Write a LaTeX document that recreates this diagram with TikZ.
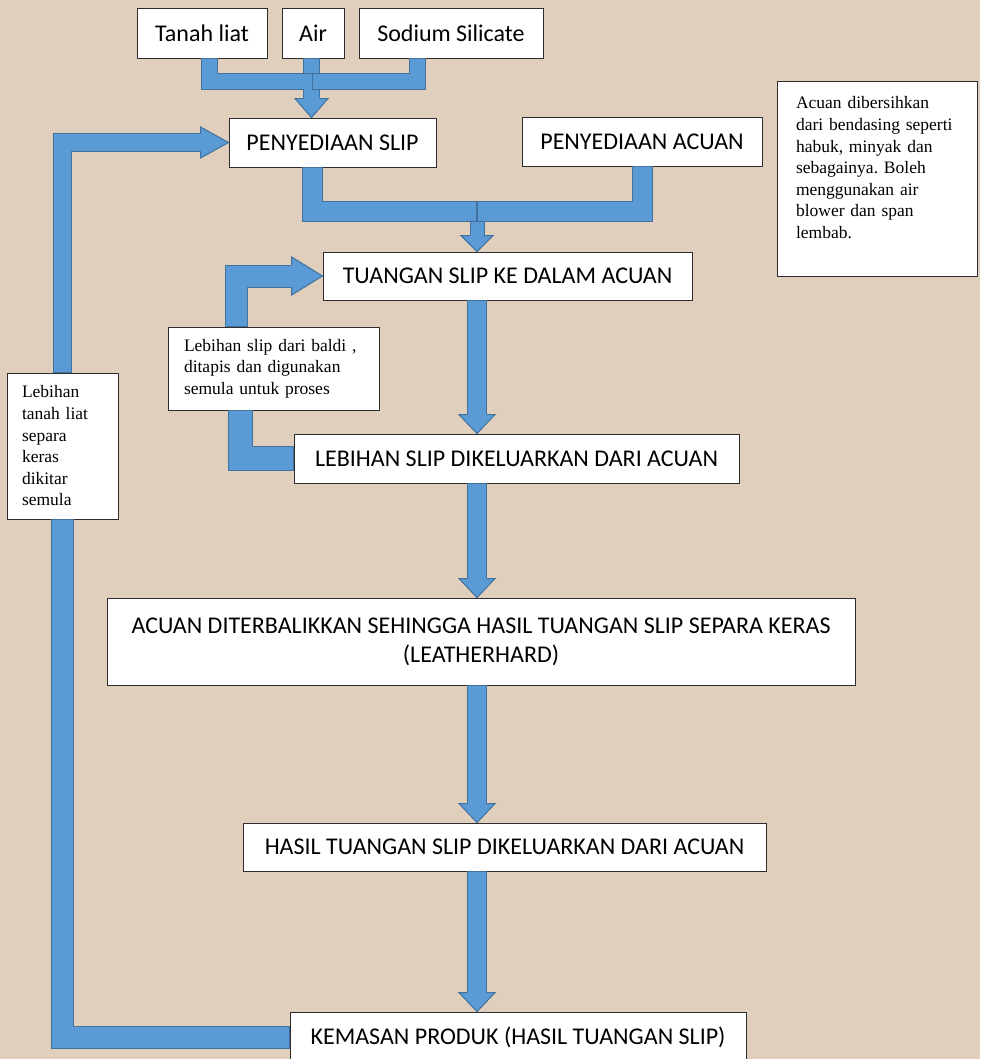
\documentclass[tikz,border=0pt]{standalone}
\usepackage{fontspec}
\setmainfont{Carlito}
\newfontfamily\notefont{Liberation Serif}
\usetikzlibrary{calc}
\frenchspacing
\definecolor{paper}{RGB}{224,207,189}
\definecolor{pipeblue}{RGB}{91,155,213}
\definecolor{pipeedge}{RGB}{65,113,156}
\definecolor{boxline}{RGB}{45,45,45}

% arrow head: tip, angle, shaft width, head width, head length
\newcommand{\pipehead}[5]{%
  \begin{scope}[shift={(#1)}, rotate=#2]
    \fill[pipeblue] (-#5-2,#3/2) -- (-#5,#3/2) -- (-#5,#4/2) -- (0,0) -- (-#5,-#4/2) -- (-#5,-#3/2) -- (-#5-2,-#3/2) -- cycle;
    \draw[pipeedge, line width=1pt] (-#5,#3/2+0.5) -- (-#5,#4/2) -- (0,0) -- (-#5,-#4/2) -- (-#5,-#3/2-0.5);
  \end{scope}}

\begin{document}
\begin{tikzpicture}[
  x=1pt, y=-1pt,
  box/.style={draw=boxline, line width=0.8pt, fill=white, inner sep=0pt, align=center, font=\fontsize{24}{29}\selectfont},
  note/.style={draw=boxline, line width=0.8pt, fill=white, align=left, inner ysep=0pt, font=\notefont\fontsize{17.5}{21.6}\selectfont},
  pipe/.style={draw=pipeblue, line width=#1, shorten <=1pt, shorten >=1pt,
    preaction={draw=pipeedge, line width=#1+2pt, shorten <=0pt, shorten >=0pt}},
]
\useasboundingbox (0,0) rectangle (980,1059);
\fill[paper] (0,0) rectangle (980,1059);

\node[box, minimum width=130pt, minimum height=50pt] (tanah) at (202,33) {Tanah liat};
\node[box, minimum width=62pt, minimum height=50pt] (air) at (313,33) {Air};
\node[box, minimum width=184pt, minimum height=50pt] (sodium) at (451,33) {Sodium Silicate};
\node[box, minimum width=207pt, minimum height=49pt] (slip) at (332.5,142.5) {PENYEDIAAN SLIP};
\node[box, minimum width=240pt, minimum height=49pt] (acuan) at (642,141.5) {PENYEDIAAN ACUAN};
\node[box, minimum width=369pt, minimum height=48pt] (tuangan) at (507.5,276) {TUANGAN SLIP KE DALAM ACUAN};
\node[box, minimum width=445pt, minimum height=49pt] (keluar) at (516.5,458.5) {LEBIHAN SLIP DIKELUARKAN DARI ACUAN};
\node[box, minimum width=748pt, minimum height=87pt] (terbalik) at (481,641.5) {ACUAN DITERBALIKKAN SEHINGGA HASIL TUANGAN SLIP SEPARA KERAS\\(LEATHERHARD)};
\node[box, minimum width=523pt, minimum height=48pt] (hasil) at (504.5,847) {HASIL TUANGAN SLIP DIKELUARKAN DARI ACUAN};
\node[box, minimum width=456pt, minimum height=50pt] (kemasan) at (518,1037) {KEMASAN PRODUK (HASIL TUANGAN SLIP)};

\node[note, minimum width=211pt, minimum height=83pt, text width=179pt, inner xsep=16pt] (slipnote) at (273.5,368.5)
  {Lebihan slip\ dari baldi ,\\ ditapis\ dan digunakan\\ semula untuk proses};
\node[note, minimum width=111pt, minimum height=146pt, text width=81pt, inner xsep=15pt] (tanahnote) at (62.5,446)
  {Lebihan\\ tanah liat\\ separa\\ keras\\ dikitar\\ semula};
\node[note, minimum width=200pt, minimum height=195pt, text width=162pt, inner xsep=19pt] (acuannote) at (877,178.5)
  {Acuan dibersihkan\\ dari bendasing seperti\\ habuk, minyak dan\\ sebagainya. Boleh\\ menggunakan air\\ blower dan span\\ lembab.\\ \mbox{}};

\coordinate (mixA) at (311.5,82);
\coordinate (mixB) at (477,212);
\coordinate (spine) at (477,0);

% bahan ke penyediaan slip
\draw[pipe=15pt] (air.south -| mixA) -- ($(slip.north -| mixA)+(0,-19)$);
\draw[pipe=15pt] ($(tanah.south)+(7.5,0)$) |- (mixA) -- ($(slip.north -| mixA)+(0,-19)$);
\draw[pipe=15pt] ($(sodium.south)+(-33.5,0)$) |- (mixA);
\pipehead{slip.north -| mixA}{-90}{15}{33}{19}

% slip dan acuan ke tuangan
\draw[pipe=13pt] (mixB) -- ($(tuangan.north -| mixB)+(0,-16)$);
\pipehead{tuangan.north -| mixB}{-90}{13}{32}{16}
\draw[pipe=19pt] ($(slip.south)+(-20,0)$) |- (mixB);
\draw[pipe=19pt] (acuan.south) |- (mixB);

% aliran utama
\foreach \a/\b in {tuangan/keluar, keluar/terbalik, terbalik/hasil, hasil/kemasan} {
  \draw[pipe=18pt] (\a.south -| spine) -- ($(\b.north -| spine)+(0,-19)$);
  \pipehead{\b.north -| spine}{-90}{18}{36}{19}
}

% kitar semula slip
\draw[pipe=23pt] (keluar.west) -| ($(slipnote.south)+(-33.5,0)$);
\draw[pipe=21pt] ($(slipnote.north)+(-37.5,0)$) |- ($(tuangan.west)+(-31,0)$);
\pipehead{tuangan.west}{0}{21}{38}{31}

% kitar semula tanah liat
\draw[pipe=21pt] (kemasan.west) -| (tanahnote.south);
\draw[pipe=17pt] (tanahnote.north) |- ($(slip.west)+(-28,0)$);
\pipehead{slip.west}{0}{17}{31}{28}
\end{tikzpicture}
\end{document}
